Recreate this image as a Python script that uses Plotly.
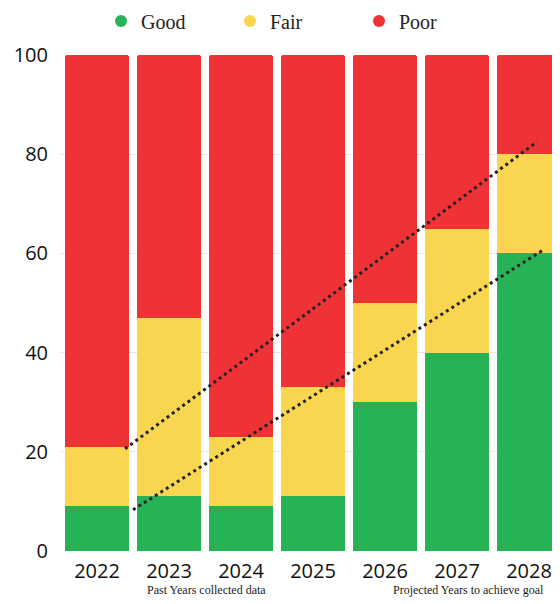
import plotly.graph_objects as go

years = ["2022", "2023", "2024", "2025", "2026", "2027", "2028"]
good = [9, 11, 9, 11, 30, 40, 60]
fair = [12, 36, 14, 22, 20, 25, 20]
poor = [79, 53, 77, 67, 50, 35, 20]

# dotted trend lines (x in category index units)
trend_x = [0.39, 6.11]
upper_trend = [20.6, 82.5]
lower_x = [0.50, 6.22]
lower_trend = [8.3, 60.9]

y_ticks = [0, 20, 40, 60, 80, 100]

colors = {"Good": "#27b255", "Fair": "#f9d650", "Poor": "#ee3236"}
xs = list(range(len(years)))

# page body has an 8px margin; figure sized to fill the remaining window
OFF = 8
W, H = 560 - OFF, 604 - OFF
L, R, T, B = 61 - OFF, 0, 55 - OFF, 53
plot_w = W - L - R
plot_h = H - T - B

fig = go.Figure()
for name, vals in [("Good", good), ("Fair", fair), ("Poor", poor)]:
    fig.add_trace(go.Bar(x=xs, y=vals, name=name, showlegend=False,
                         marker=dict(color=colors[name], line=dict(width=0))))
for name in ["Good", "Fair", "Poor"]:
    fig.add_trace(go.Scatter(x=[None], y=[None], mode="markers", name=name,
                             marker=dict(color=colors[name], size=17, symbol="circle")))

fig.add_trace(go.Scatter(x=trend_x, y=upper_trend, mode="lines", showlegend=False,
                         line=dict(color="#222222", width=3, dash="3px,3.5px")))
fig.add_trace(go.Scatter(x=lower_x, y=lower_trend, mode="lines", showlegend=False,
                         line=dict(color="#222222", width=3, dash="3px,3.5px")))

fig.update_layout(
    width=W, height=H,
    margin=dict(l=L, r=R, t=T, b=B, autoexpand=False),
    barmode="stack", bargap=0.11, barcornerradius=3,
    plot_bgcolor="white", paper_bgcolor="white",
    legend=dict(orientation="h", x=(121 - OFF - 20 - L) / plot_w, xanchor="left",
                y=1 + (T - (21 - OFF)) / plot_h, yanchor="middle",
                font=dict(family="Liberation Serif", size=20, color="#222"),
                entrywidth=84, entrywidthmode="pixels", itemsizing="constant",
                traceorder="normal", bgcolor="rgba(0,0,0,0)"),
    xaxis=dict(range=[-0.5, -0.5 + plot_w / 72], tickvals=xs, ticktext=years,
               tickfont=dict(family="Open Sans", size=20, color="#111"),
               ticks="outside", ticklen=2, tickcolor="rgba(0,0,0,0)", showgrid=False,
               zeroline=False, showline=False),
    yaxis=dict(range=[0, 100], tickvals=y_ticks,
               tickfont=dict(family="Open Sans", size=20, color="#111"),
               ticks="outside", ticklen=8, tickcolor="rgba(0,0,0,0)",
               showgrid=True, gridcolor="#e6e6e6", gridwidth=1, zeroline=False),
)

for text, px in [("Past Years collected data", 206), ("Projected Years to achieve goal", 468)]:
    fig.add_annotation(text=text, x=(px - OFF - L) / plot_w, y=(H - B - (590 - OFF)) / plot_h,
                       xref="paper", yref="paper", xanchor="center", yanchor="middle",
                       showarrow=False,
                       font=dict(family="Liberation Serif", size=12, color="#222"))

fig.write_html("out.html")
